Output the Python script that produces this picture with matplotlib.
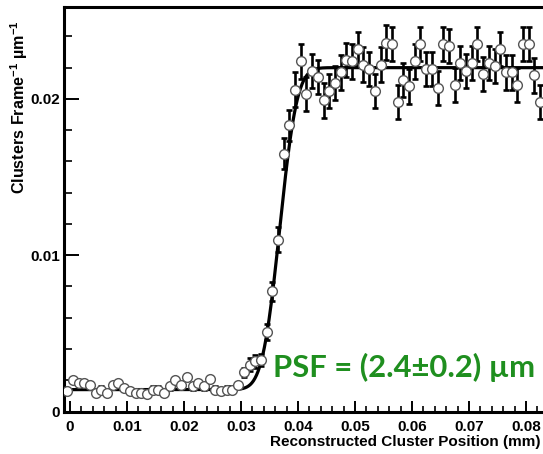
import math
import numpy as np
import matplotlib
matplotlib.use("Agg")
import matplotlib.pyplot as plt
from matplotlib.ticker import MultipleLocator, FixedLocator, FixedFormatter

# Histogram of reconstructed cluster positions across a sharp edge
bin_width = 0.001  # mm
bin_centers = np.arange(84) * bin_width - 0.0005

counts = [
    0.0013, 0.0020, 0.0018, 0.0018, 0.0017, 0.0012, 0.0014, 0.0012, 0.0017, 0.0018,
    0.0015, 0.0013, 0.0012, 0.0012, 0.0011, 0.0014, 0.0014, 0.0012, 0.0016, 0.0020,
    0.0017, 0.0022, 0.0016, 0.0018, 0.0016, 0.0021, 0.0014, 0.0013, 0.0014, 0.0014,
    0.0017, 0.0025, 0.0030, 0.0032, 0.0033, 0.0051, 0.0077, 0.0110, 0.0165,
    0.0183, 0.0206, 0.0224, 0.0203, 0.0218, 0.0214, 0.0199, 0.0205, 0.0210, 0.0217,
    0.0225, 0.0224, 0.0232, 0.0222, 0.0219, 0.0205, 0.0222, 0.0236, 0.0235, 0.0198,
    0.0212, 0.0208, 0.0224, 0.0235, 0.0219, 0.0219, 0.0207, 0.0235, 0.0234, 0.0209,
    0.0223, 0.0218, 0.0223, 0.0235, 0.0216, 0.0223, 0.0221, 0.0232, 0.0217, 0.0217,
    0.0209, 0.0235, 0.0235, 0.0215, 0.0198,
]

errors = (
    [0.0002] * 31
    + [0.0003, 0.0004, 0.0004, 0.0004, 0.0005, 0.0006, 0.0008, 0.0010, 0.0010]
    + [0.0011] * 44
)

# Edge fit: constant baseline + Gaussian-smeared step (sigma = PSF)
fit_base = 0.0014
fit_plateau = 0.0220
fit_edge = 0.0368   # mm
fit_psf = 0.0024    # mm (2.4 um)

x_ticks = [0, 0.01, 0.02, 0.03, 0.04, 0.05, 0.06, 0.07, 0.08]
x_tick_labels = ["0", "0.01", "0.02", "0.03", "0.04", "0.05", "0.06", "0.07", "0.08"]
y_ticks = [0, 0.01, 0.02]
y_tick_labels = ["0", "0.01", "0.02"]

plt.rcParams["font.family"] = ["Liberation Sans", "DejaVu Sans"]
plt.rcParams["font.weight"] = "bold"
plt.rcParams["mathtext.default"] = "regular"

fig = plt.figure(figsize=(5.43, 4.54), dpi=100)
W, H = 543, 454
ax = fig.add_axes([64 / W, 1 - 411.5 / H, 1 - 64 / W, (411.5 - 6.7) / H])

ax.set_xlim(-0.00105, 0.083)
ax.set_ylim(0, 0.0259)

xf = np.linspace(0.0005, 0.083, 600)
yf = fit_base + (fit_plateau - fit_base) * 0.5 * (
    1 + np.array([math.erf((v - fit_edge) / (fit_psf * math.sqrt(2))) for v in xf])
)

ax.errorbar(bin_centers, counts, yerr=errors, fmt="none", ecolor="black",
            elinewidth=1.9, capsize=2.3, capthick=1.9, zorder=2)
ax.plot(xf, yf, color="black", lw=2.3, zorder=3)
ax.plot(bin_centers, counts, linestyle="none", marker="o", markersize=7.0,
        markerfacecolor="white", markeredgecolor="#555555", markeredgewidth=1.0,
        zorder=4)

for side in ("left", "bottom", "top"):
    ax.spines[side].set_linewidth(2.2)
ax.spines["right"].set_visible(False)

ax.xaxis.set_major_locator(FixedLocator(x_ticks))
ax.xaxis.set_major_formatter(FixedFormatter(x_tick_labels))
ax.xaxis.set_minor_locator(MultipleLocator(0.002))
ax.yaxis.set_major_locator(FixedLocator(y_ticks))
ax.yaxis.set_major_formatter(FixedFormatter(y_tick_labels))
ax.yaxis.set_minor_locator(MultipleLocator(0.002))

ax.tick_params(axis="x", which="major", direction="in", length=8, width=1.4,
               pad=6, labelsize=11)
ax.tick_params(axis="x", which="minor", direction="in", length=4.5, width=1.2)
ax.tick_params(axis="y", which="major", direction="in", length=11, width=1.4,
               pad=3, labelsize=11)
ax.tick_params(axis="y", which="minor", direction="in", length=5.5, width=1.2)
ax.tick_params(top=False, right=False, which="both")
for lab in ax.get_xticklabels() + ax.get_yticklabels():
    lab.set_fontweight("bold")

fig.text(541 / W, 1 - 442 / H, "Reconstructed Cluster Position (mm)",
         ha="right", va="center", fontsize=11, fontweight="bold")
fig.text(19 / W, 1 - 20 / H, "Clusters Frame$^{-1}$ \u00b5m$^{-1}$",
         rotation=90, ha="center", va="top", fontsize=11.6, fontweight="bold")

fig.text(273 / W, 1 - 367 / H, "PSF = (2.4\u00b10.2) \u00b5m", ha="left",
         va="center", fontsize=22.3, fontweight="bold", color="#1f8f1f",
         family=["Lato", "DejaVu Sans"])

fig.savefig("out.png", dpi=100)
